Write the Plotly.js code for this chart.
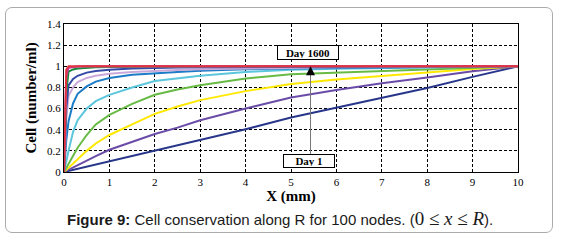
<!DOCTYPE html>
<html>
<head>
<meta charset="utf-8">
<script src="https://cdn.plot.ly/plotly-3.0.1.min.js"></script>
<style>
html,body{margin:0;padding:0;background:#fff;}
#frame{position:absolute;left:5px;top:7px;width:546px;height:224px;border:1.5px solid #ababab;border-radius:7px;}
#chart{position:absolute;left:0;top:0;width:564px;height:241px;}
</style>
</head>
<body>
<div id="frame"></div>
<div id="chart"></div>
<script>
// Position along R (mm)
const xNodes = [0, 0.05, 0.1, 0.2, 0.3, 0.5, 0.7, 1, 1.5, 2, 2.5, 3, 4, 5, 6, 7, 8, 9, 10];

// Cell concentration (number/ml), from Day 1 (bottom) to Day 1600 (top)
const cellDay1      = [0, 0.005, 0.011, 0.022, 0.033, 0.055, 0.075, 0.105, 0.155, 0.20, 0.25, 0.30, 0.405, 0.515, 0.61, 0.70, 0.795, 0.90, 1.0];
const cellPurple    = [0, 0.011, 0.022, 0.045, 0.068, 0.11, 0.15, 0.21, 0.285, 0.36, 0.42, 0.49, 0.60, 0.705, 0.775, 0.84, 0.895, 0.952, 1.0];
const cellYellow    = [0, 0.02, 0.04, 0.08, 0.12, 0.20, 0.27, 0.35, 0.45, 0.55, 0.62, 0.68, 0.765, 0.832, 0.875, 0.91, 0.945, 0.975, 1.0];
const cellGreen     = [0, 0.04, 0.08, 0.16, 0.23, 0.35, 0.45, 0.54, 0.645, 0.73, 0.78, 0.82, 0.885, 0.925, 0.94, 0.957, 0.972, 0.986, 1.0];
const cellCyan      = [0, 0.11, 0.20, 0.38, 0.49, 0.60, 0.67, 0.73, 0.80, 0.86, 0.885, 0.91, 0.945, 0.968, 0.976, 0.983, 0.99, 0.995, 1.0];
const cellBlue      = [0, 0.30, 0.48, 0.65, 0.74, 0.81, 0.855, 0.89, 0.92, 0.935, 0.947, 0.957, 0.972, 0.978, 0.983, 0.988, 0.993, 0.997, 1.0];
const cellLilac     = [0, 0.50, 0.72, 0.80, 0.85, 0.89, 0.91, 0.93, 0.945, 0.958, 0.965, 0.972, 0.98, 0.985, 0.99, 0.993, 0.996, 0.998, 1.0];
const cellIndigo    = [0, 0.60, 0.82, 0.88, 0.91, 0.94, 0.955, 0.968, 0.978, 0.985, 0.988, 0.99, 0.993, 0.995, 0.997, 0.998, 0.999, 1.0, 1.0];
const cellDarkGreen = [0, 0.75, 0.95, 0.97, 0.978, 0.985, 0.99, 0.993, 0.996, 0.998, 0.999, 1.0, 1.0, 1.0, 1.0, 1.0, 1.0, 1.0, 1.0];
const cellSteel     = [0, 0.95, 0.99, 0.995, 0.998, 1.0, 1.0, 1.0, 1.0, 1.0, 1.0, 1.0, 1.0, 1.0, 1.0, 1.0, 1.0, 1.0, 1.0];
const cellMagenta   = [0, 0.90, 0.985, 0.993, 0.997, 1.0, 1.0, 1.0, 1.0, 1.0, 1.0, 1.0, 1.0, 1.0, 1.0, 1.0, 1.0, 1.0, 1.0];
const cellDay1600   = [0, 0.97, 1.0, 1.0, 1.0, 1.0, 1.0, 1.0, 1.0, 1.0, 1.0, 1.0, 1.0, 1.0, 1.0, 1.0, 1.0, 1.0, 1.0];

const seriesList = [cellDay1, cellPurple, cellYellow, cellGreen, cellCyan, cellBlue, cellLilac, cellIndigo, cellDarkGreen, cellSteel, cellMagenta, cellDay1600];
const seriesColors = ['#27368a', '#6a4ca8', '#ffe800', '#67bb45', '#5cc6dc', '#1c7cc6', '#c9a9da', '#3448a8', '#168a3b', '#a3b8dc', '#c23b8f', '#e3323f'];

const xTicks = [0, 1, 2, 3, 4, 5, 6, 7, 8, 9, 10];
const yTicks = [0, 0.2, 0.4, 0.6, 0.8, 1, 1.2, 1.4];
const yTickText = ['0', '0.2', '0.4', '0.6', '0.8', '1', '1.2', '1.4'];

// Annotation anchors
const arrowX = 5.43;
const arrowFromY = 0.168;
const arrowToY = 1.0;

const traces = seriesList.map((ys, i) => ({
  x: xNodes, y: ys, type: 'scatter', mode: 'lines',
  line: {color: seriesColors[i], width: 2},
  hoverinfo: 'skip', showlegend: false
}));

const serif = 'Liberation Serif, Times New Roman, serif';

const layout = {
  width: 564, height: 241,
  margin: {l: 64, r: 46, t: 24, b: 69},
  paper_bgcolor: 'rgba(0,0,0,0)',
  plot_bgcolor: '#ffffff',
  showlegend: false,
  xaxis: {
    range: [0, 10], tickvals: xTicks, ticks: '',
    showline: true, mirror: true, linecolor: '#000', linewidth: 1,
    showgrid: true, gridcolor: '#000', gridwidth: 1, griddash: '3px,2px',
    zeroline: false,
    tickfont: {family: serif, size: 11, color: '#000'},
    title: {text: 'X (mm)', font: {family: serif, size: 15, color: '#000', weight: 'bold'}, standoff: 2}
  },
  yaxis: {
    range: [0, 1.4], tickvals: yTicks, ticktext: yTickText, ticks: '',
    showline: true, mirror: true, linecolor: '#000', linewidth: 1,
    showgrid: true, gridcolor: '#000', gridwidth: 1, griddash: '3px,2px',
    zeroline: false,
    tickfont: {family: serif, size: 11, color: '#000'},
    title: {text: 'Cell (number/ml)', font: {family: serif, size: 15, color: '#000', weight: 'bold'}, standoff: 6}
  },
  shapes: [
    {type: 'line', xref: 'x', yref: 'y', x0: arrowX, x1: arrowX, y0: arrowFromY, y1: arrowToY - 0.03,
     line: {color: '#777', width: 1}}
  ],
  annotations: [
    {xref: 'x', yref: 'y', axref: 'x', ayref: 'y', x: arrowX, y: arrowToY, ax: arrowX, ay: arrowToY - 0.05,
     text: '', showarrow: true, arrowhead: 2, arrowsize: 1.2, arrowwidth: 1.5, arrowcolor: '#000'},
    {xref: 'x', yref: 'y', x: 5.37, y: 1.128, text: '<b>Day 1600</b>', showarrow: false,
     font: {family: serif, size: 11, color: '#000'}, bgcolor: '#fff', bordercolor: '#000', borderwidth: 1,
     borderpad: 1, width: 58, height: 11},
    {xref: 'x', yref: 'y', x: 5.39, y: 0.102, text: '<b>Day 1</b>', showarrow: false,
     font: {family: serif, size: 11, color: '#000'}, bgcolor: '#fff', bordercolor: '#000', borderwidth: 1,
     borderpad: 1, width: 48, height: 10},
    {xref: 'paper', yref: 'paper', x: 0.4747, y: -0.315, xanchor: 'center', yanchor: 'middle', showarrow: false,
     font: {family: 'Liberation Sans, Arial, sans-serif', size: 15, color: '#1a1a1a'},
     text: '<b>Figure 9:</b> Cell conservation along R for 100 nodes. (<span style="font-family:\'Liberation Serif\';font-size:19px">0 ≤ <i>x</i> ≤ <i>R</i></span>).'}
  ]
};

Plotly.newPlot('chart', traces, layout, {staticPlot: true, displayModeBar: false});
</script>
</body>
</html>
